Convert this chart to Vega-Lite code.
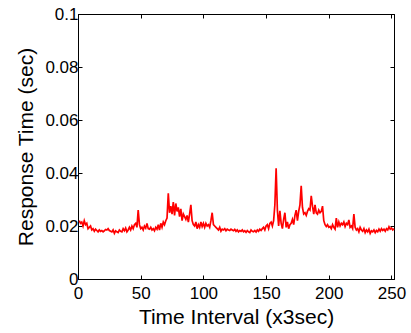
{
  "$schema": "https://vega.github.io/schema/vega-lite/v6.json",
  "width": 316,
  "height": 265,
  "autosize": {"type": "none"},
  "padding": {"left": 78, "top": 14, "right": 17, "bottom": 54},
  "background": "white",
  "config": {
    "view": {"stroke": "black", "strokeWidth": 1},
    "font": "Liberation Sans",
    "axis": {
      "grid": false,
      "domainColor": "black",
      "tickColor": "black",
      "tickSize": -4,
      "labelColor": "black",
      "titleColor": "black",
      "labelFont": "Liberation Sans",
      "titleFont": "Liberation Sans",
      "labelFontSize": 17,
      "titleFontSize": 21,
      "titleFontWeight": "normal"
    }
  },
  "data": {
    "values": [
      {"t":1,"v":0.022},{"t":2,"v":0.021},{"t":3,"v":0.0215},{"t":4,"v":0.020},{"t":5,"v":0.022},{"t":6,"v":0.0205},{"t":7,"v":0.021},{"t":8,"v":0.019},{"t":9,"v":0.0195},{"t":10,"v":0.020},
      {"t":11,"v":0.0185},{"t":12,"v":0.019},{"t":13,"v":0.018},{"t":14,"v":0.0188},{"t":15,"v":0.0183},{"t":16,"v":0.0178},{"t":17,"v":0.0185},{"t":18,"v":0.018},{"t":19,"v":0.0183},{"t":20,"v":0.0178},
      {"t":21,"v":0.0182},{"t":22,"v":0.0187},{"t":23,"v":0.0185},{"t":24,"v":0.019},{"t":25,"v":0.0183},{"t":26,"v":0.018},{"t":27,"v":0.0178},{"t":28,"v":0.0185},{"t":29,"v":0.0172},{"t":30,"v":0.0182},
      {"t":31,"v":0.0178},{"t":32,"v":0.0175},{"t":33,"v":0.0185},{"t":34,"v":0.018},{"t":35,"v":0.0178},{"t":36,"v":0.019},{"t":37,"v":0.0182},{"t":38,"v":0.0192},{"t":39,"v":0.0178},{"t":40,"v":0.0185},
      {"t":41,"v":0.0195},{"t":42,"v":0.0185},{"t":43,"v":0.02},{"t":44,"v":0.019},{"t":45,"v":0.0205},{"t":46,"v":0.021},{"t":47,"v":0.0195},{"t":48,"v":0.026},{"t":49,"v":0.0205},{"t":50,"v":0.019},
      {"t":51,"v":0.0195},{"t":52,"v":0.0185},{"t":53,"v":0.02},{"t":54,"v":0.0192},{"t":55,"v":0.021},{"t":56,"v":0.019},{"t":57,"v":0.0188},{"t":58,"v":0.0195},{"t":59,"v":0.0185},{"t":60,"v":0.019},
      {"t":61,"v":0.0182},{"t":62,"v":0.0195},{"t":63,"v":0.0188},{"t":64,"v":0.0205},{"t":65,"v":0.0185},{"t":66,"v":0.021},{"t":67,"v":0.0195},{"t":68,"v":0.0215},{"t":69,"v":0.0205},{"t":70,"v":0.022},
      {"t":71,"v":0.023},{"t":72,"v":0.0323},{"t":73,"v":0.025},{"t":74,"v":0.0275},{"t":75,"v":0.0245},{"t":76,"v":0.029},{"t":77,"v":0.024},{"t":78,"v":0.0285},{"t":79,"v":0.0255},{"t":80,"v":0.027},
      {"t":81,"v":0.0235},{"t":82,"v":0.0265},{"t":83,"v":0.022},{"t":84,"v":0.0245},{"t":85,"v":0.0235},{"t":86,"v":0.0225},{"t":87,"v":0.024},{"t":88,"v":0.0215},{"t":89,"v":0.0245},{"t":90,"v":0.028},
      {"t":91,"v":0.022},{"t":92,"v":0.0205},{"t":93,"v":0.02},{"t":94,"v":0.0215},{"t":95,"v":0.019},{"t":96,"v":0.0205},{"t":97,"v":0.0195},{"t":98,"v":0.0215},{"t":99,"v":0.0198},{"t":100,"v":0.021},
      {"t":101,"v":0.0195},{"t":102,"v":0.021},{"t":103,"v":0.02},{"t":104,"v":0.0205},{"t":105,"v":0.0195},{"t":106,"v":0.022},{"t":107,"v":0.025},{"t":108,"v":0.0205},{"t":109,"v":0.02},{"t":110,"v":0.0195},
      {"t":111,"v":0.019},{"t":112,"v":0.0185},{"t":113,"v":0.0195},{"t":114,"v":0.018},{"t":115,"v":0.0188},{"t":116,"v":0.0185},{"t":117,"v":0.019},{"t":118,"v":0.0182},{"t":119,"v":0.0188},{"t":120,"v":0.0185},
      {"t":121,"v":0.0183},{"t":122,"v":0.0188},{"t":123,"v":0.0185},{"t":124,"v":0.0182},{"t":125,"v":0.0187},{"t":126,"v":0.018},{"t":127,"v":0.0185},{"t":128,"v":0.0178},{"t":129,"v":0.0183},{"t":130,"v":0.018},
      {"t":131,"v":0.0185},{"t":132,"v":0.0178},{"t":133,"v":0.0182},{"t":134,"v":0.0176},{"t":135,"v":0.0183},{"t":136,"v":0.0178},{"t":137,"v":0.0175},{"t":138,"v":0.0185},{"t":139,"v":0.018},{"t":140,"v":0.0178},
      {"t":141,"v":0.0183},{"t":142,"v":0.0177},{"t":143,"v":0.0185},{"t":144,"v":0.018},{"t":145,"v":0.0188},{"t":146,"v":0.0183},{"t":147,"v":0.019},{"t":148,"v":0.0195},{"t":149,"v":0.0185},{"t":150,"v":0.02},
      {"t":151,"v":0.0205},{"t":152,"v":0.019},{"t":153,"v":0.021},{"t":154,"v":0.0215},{"t":155,"v":0.02},{"t":156,"v":0.022},{"t":157,"v":0.028},{"t":158,"v":0.0418},{"t":159,"v":0.026},{"t":160,"v":0.02},
      {"t":161,"v":0.0257},{"t":162,"v":0.021},{"t":163,"v":0.019},{"t":164,"v":0.0225},{"t":165,"v":0.025},{"t":166,"v":0.0195},{"t":167,"v":0.0215},{"t":168,"v":0.019},{"t":169,"v":0.0205},{"t":170,"v":0.021},
      {"t":171,"v":0.0225},{"t":172,"v":0.0205},{"t":173,"v":0.024},{"t":174,"v":0.026},{"t":175,"v":0.022},{"t":176,"v":0.0255},{"t":177,"v":0.028},{"t":178,"v":0.0352},{"t":179,"v":0.027},{"t":180,"v":0.0245},
      {"t":181,"v":0.025},{"t":182,"v":0.024},{"t":183,"v":0.0255},{"t":184,"v":0.0265},{"t":185,"v":0.026},{"t":186,"v":0.0314},{"t":187,"v":0.0275},{"t":188,"v":0.0245},{"t":189,"v":0.028},{"t":190,"v":0.025},
      {"t":191,"v":0.0245},{"t":192,"v":0.026},{"t":193,"v":0.025},{"t":194,"v":0.0255},{"t":195,"v":0.0275},{"t":196,"v":0.022},{"t":197,"v":0.0205},{"t":198,"v":0.0198},{"t":199,"v":0.0205},{"t":200,"v":0.0195},
      {"t":201,"v":0.0198},{"t":202,"v":0.019},{"t":203,"v":0.0205},{"t":204,"v":0.0195},{"t":205,"v":0.0188},{"t":206,"v":0.023},{"t":207,"v":0.0195},{"t":208,"v":0.0215},{"t":209,"v":0.02},{"t":210,"v":0.021},
      {"t":211,"v":0.0205},{"t":212,"v":0.0215},{"t":213,"v":0.0198},{"t":214,"v":0.021},{"t":215,"v":0.0205},{"t":216,"v":0.0223},{"t":217,"v":0.0195},{"t":218,"v":0.02},{"t":219,"v":0.019},{"t":220,"v":0.0245},
      {"t":221,"v":0.0195},{"t":222,"v":0.0185},{"t":223,"v":0.019},{"t":224,"v":0.0178},{"t":225,"v":0.0195},{"t":226,"v":0.0185},{"t":227,"v":0.018},{"t":228,"v":0.019},{"t":229,"v":0.0175},{"t":230,"v":0.0185},
      {"t":231,"v":0.0178},{"t":232,"v":0.0188},{"t":233,"v":0.0172},{"t":234,"v":0.0182},{"t":235,"v":0.0178},{"t":236,"v":0.0185},{"t":237,"v":0.0175},{"t":238,"v":0.0183},{"t":239,"v":0.0178},{"t":240,"v":0.0188},
      {"t":241,"v":0.018},{"t":242,"v":0.019},{"t":243,"v":0.0183},{"t":244,"v":0.0188},{"t":245,"v":0.018},{"t":246,"v":0.019},{"t":247,"v":0.0185},{"t":248,"v":0.0197},{"t":249,"v":0.0188},{"t":250,"v":0.0192},
      {"t":251,"v":0.0185},{"t":252,"v":0.019}
    ]
  },
  "layer": [
    {
      "mark": {"type": "line", "color": "#ff0000", "strokeWidth": 1.7},
      "encoding": {
        "x": {"field": "t", "type": "quantitative", "scale": {"domain": [0, 252], "nice": false},
              "axis": {"title": "Time Interval (x3sec)", "values": [0, 50, 100, 150, 200, 250], "labelPadding": 10, "titlePadding": 5, "labelFlush": false}},
        "y": {"field": "v", "type": "quantitative", "scale": {"domain": [0, 0.1], "nice": false},
              "axis": {"title": "Response Time (sec)", "values": [0, 0.02, 0.04, 0.06, 0.08, 0.1], "format": ".2~f", "labelPadding": 4, "titlePadding": 8, "labelFlush": false}}
      }
    },
    {
      "mark": {"type": "line", "opacity": 0},
      "encoding": {
        "x": {"field": "t", "type": "quantitative", "scale": {"domain": [0, 252], "nice": false},
              "axis": {"orient": "top", "title": null, "labels": false, "values": [0, 50, 100, 150, 200, 250]}},
        "y": {"field": "v", "type": "quantitative", "scale": {"domain": [0, 0.1], "nice": false},
              "axis": {"orient": "right", "title": null, "labels": false, "values": [0, 0.02, 0.04, 0.06, 0.08, 0.1]}}
      }
    }
  ],
  "resolve": {"axis": {"x": "independent", "y": "independent"}}
}
